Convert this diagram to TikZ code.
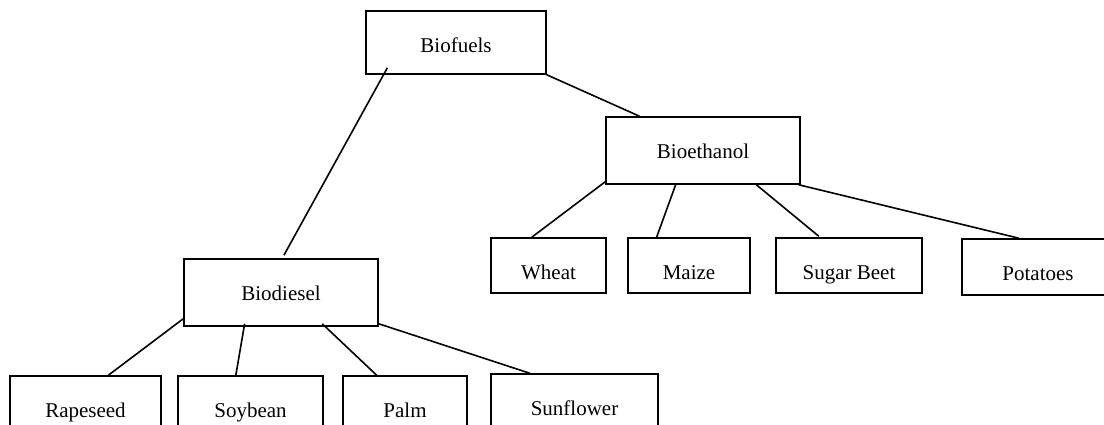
\documentclass[tikz,border=0pt]{standalone}
\usepackage{fontspec}
\setmainfont{Liberation Serif}
\usepackage{tikz}
\usetikzlibrary{calc}

\begin{document}
\begin{tikzpicture}[x=1pt, y=-1pt,
    box/.style={draw, line width=1.6pt, rectangle, inner sep=0pt,
        font=\fontsize{21}{25}\selectfont, text height=16pt, text depth=0pt},
    topbox/.style={box, text height=21pt},
    leafbox/.style={box, minimum height=55pt, text height=27pt},
    link/.style={line width=1.6pt}]
    \useasboundingbox (0,0) rectangle (1104,425);
    \clip (0,0) rectangle (1104,425);

    % Root
    \node[topbox, minimum width=180pt, minimum height=63pt] (biofuels) at (456,42.5) {Biofuels};

    % Second level
    \node[box, minimum width=194pt, minimum height=67pt] (bioethanol) at (703,150.5) {Bioethanol};
    \node[box, minimum width=194pt, minimum height=67pt] (biodiesel) at (281,292.5) {Biodiesel};

    % Bioethanol crops
    \node[leafbox, minimum width=115pt] (wheat) at (548.5,265.5) {Wheat};
    \node[leafbox, minimum width=122pt] (maize) at (689,265.5) {Maize};
    \node[leafbox, minimum width=146pt] (sugarbeet) at (849,265.5) {Sugar Beet};
    \node[leafbox, minimum width=152pt, minimum height=56pt] (potatoes) at (1038,267) {Potatoes};

    % Biodiesel crops
    \node[leafbox, minimum width=151pt] (rapeseed) at (85.5,403.5) {Rapeseed};
    \node[leafbox, minimum width=145pt] (soybean) at (250.5,403.5) {Soybean};
    \node[leafbox, minimum width=124pt] (palm) at (405,403.5) {Palm};
    \node[leafbox, minimum width=167pt] (sunflower) at (574.5,401.5) {Sunflower};

    % Branches from the root
    \draw[link] ($(biofuels.south west)!0.122!(biofuels.south east) + (0,-7)$) -- ($(biodiesel.north west)!0.515!(biodiesel.north east) + (0,-3)$);
    \draw[link] (biofuels.south east) -- ($(bioethanol.north west)!0.175!(bioethanol.north east)$);

    % Bioethanol branches
    \draw[link] ($(bioethanol.south west) + (0,-3)$) -- ($(wheat.north west)!0.357!(wheat.north east)$);
    \draw[link] ($(bioethanol.south west)!0.36!(bioethanol.south east)$) -- ($(maize.north west)!0.238!(maize.north east)$);
    \draw[link] ($(bioethanol.south west)!0.773!(bioethanol.south east)$) -- ($(sugarbeet.north west)!0.295!(sugarbeet.north east) + (0,-1)$);
    \draw[link] ($(bioethanol.south west)!0.99!(bioethanol.south east)$) -- ($(potatoes.north west)!0.375!(potatoes.north east)$);

    % Biodiesel branches
    \draw[link] ($(biodiesel.south west) + (0,-8)$) -- ($(rapeseed.north west)!0.65!(rapeseed.north east)$);
    \draw[link] ($(biodiesel.south west)!0.314!(biodiesel.south east) + (0,-3)$) -- ($(soybean.north west)!0.4!(soybean.north east)$);
    \draw[link] ($(biodiesel.south west)!0.711!(biodiesel.south east) + (0,-3)$) -- ($(palm.north west)!0.274!(palm.north east)$);
    \draw[link] ($(biodiesel.south east) + (0,-3)$) -- ($(sunflower.north west)!0.234!(sunflower.north east)$);
\end{tikzpicture}
\end{document}
